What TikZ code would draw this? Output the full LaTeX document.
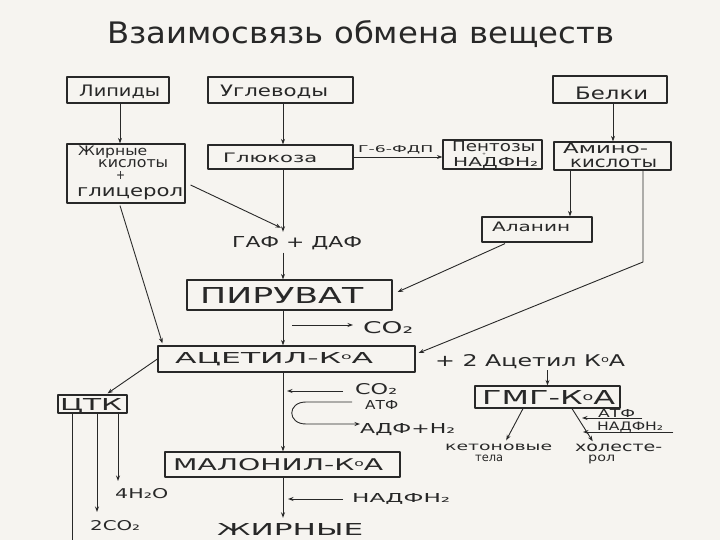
\documentclass[tikz,border=0pt]{standalone}
\usepackage{fontspec}
\setmainfont{DejaVu Sans}
\usetikzlibrary{arrows.meta,calc}
\definecolor{ink}{RGB}{40,40,40}
\definecolor{paper}{RGB}{246,244,240}
\newcommand\rtxt[3]{\resizebox{#1pt}{#2pt}{#3}}
\newcommand\kOA{К\raisebox{0.2em}{\scalebox{0.55}{о}}А}
\begin{document}
\begin{tikzpicture}[x=1pt,y=-1pt,line join=round,
  box/.style={draw=ink,line width=1.2pt,inner sep=0pt},
  lbl/.style={anchor=base west,inner sep=0pt,text=ink},
  con/.style={draw=ink,line width=0.9pt},
  arr/.style={con,-{Stealth[length=5.5pt,width=4pt]}}]
\fill[paper] (0,0) rectangle (720,540);
\useasboundingbox (0,0) rectangle (720,540);

% title
\node[lbl] (title) at (107,44) {\rtxt{507}{23}{Взаимосвязь обмена веществ}};

% boxes
\node[box,minimum width=102pt,minimum height=26pt] (lip) at (118,90) {};
\node[box,minimum width=145pt,minimum height=26pt] (ugl) at (280.5,90) {};
\node[box,minimum width=114pt,minimum height=27pt] (bel) at (610,89.5) {};
\node[box,minimum width=118pt,minimum height=59pt] (zhk) at (126,173.5) {};
\node[box,minimum width=145pt,minimum height=24pt] (glu) at (280.5,157) {};
\node[box,minimum width=99pt,minimum height=29pt] (pen) at (492.5,154.5) {};
\node[box,minimum width=117pt,minimum height=28pt] (ami) at (612.5,156) {};
\node[box,minimum width=110pt,minimum height=25pt] (ala) at (537,229.5) {};
\node[box,minimum width=205pt,minimum height=30pt] (pir) at (289.5,295) {};
\node[box,minimum width=257pt,minimum height=26pt] (ace) at (286.5,359) {};
\node[box,minimum width=69pt,minimum height=18pt] (tca) at (92.5,404) {};
\node[box,minimum width=145pt,minimum height=22pt] (gmg) at (547.5,397) {};
\node[box,minimum width=235pt,minimum height=25pt] (mal) at (282.5,464.5) {};

% texts
\node[lbl] (tlip) at (79,97) {\rtxt{81}{11.5}{Липиды}};
\node[lbl] (tugl) at (220,97) {\rtxt{108}{11.5}{Углеводы}};
\node[lbl] (tbel) at (575,100) {\rtxt{73}{12.5}{Белки}};
\node[lbl] (tzh1) at (78,156) {\rtxt{69}{9.5}{Жирные}};
\node[lbl] (tzh2) at (98,168) {\rtxt{70}{8}{кислоты}};
\node[lbl] (tzh3) at (116,180) {\rtxt{9}{8}{+}};
\node[lbl] (tzh4) at (77,197) {\rtxt{106}{9}{глицерол}};
\node[lbl] (tglu) at (223,163) {\rtxt{94}{9.5}{Глюкоза}};
\node[lbl] (tg6f) at (358,153) {\rtxt{75}{7}{Г-6-ФДП}};
\node[lbl] (tpe1) at (452,152) {\rtxt{83}{10.5}{Пентозы}};
\node[lbl] (tpep) at (482,156) {\rtxt{4}{2.5}{+}};
\node[lbl] (tpe2) at (453,167) {\rtxt{85}{9}{НАДФН₂}};
\node[lbl] (tam1) at (563,154) {\rtxt{85}{10.5}{Амино-}};
\node[lbl] (tam2) at (570,167.5) {\rtxt{87}{8.5}{кислоты}};
\node[lbl] (tala) at (492,231) {\rtxt{78}{9.5}{Аланин}};
\node[lbl] (tgaf) at (232,247) {\rtxt{130}{11}{ГАФ + ДАФ}};
\node[lbl] (tpir) at (200,303) {\rtxt{163}{16}{ПИРУВАТ}};
\node[lbl] (tco2a) at (363,333) {\rtxt{50}{12}{CO₂}};
\node[lbl] (tace) at (175,363) {\rtxt{198}{11}{АЦЕТИЛ-\kOA}};
\node[lbl] (tplus) at (435,366) {\rtxt{190}{12}{+ 2 Ацетил \kOA}};
\node[lbl] (ttca) at (60,410) {\rtxt{62}{12}{ЦТК}};
\node[lbl] (tco2b) at (355,394) {\rtxt{42}{11}{CO₂}};
\node[lbl] (tatf) at (365,409) {\rtxt{33}{9}{АТФ}};
\node[lbl] (tadf) at (360,433) {\rtxt{95}{10}{АДФ+Н₂}};
\node[lbl] (tmal) at (173,470) {\rtxt{210}{12}{МАЛОНИЛ-\kOA}};
\node[lbl] (th2o) at (115,498) {\rtxt{53}{10}{4H₂O}};
\node[lbl] (tco2c) at (90,530) {\rtxt{50}{10}{2CO₂}};
\node[lbl] (tnad) at (352,502) {\rtxt{98}{9}{НАДФН₂}};
\node[lbl] (tzhir) at (217,535) {\rtxt{146}{12}{ЖИРНЫЕ}};
\node[lbl] (tgmg) at (482,404) {\rtxt{133}{14}{ГМГ-\kOA}};
\node[lbl] (tatf2) at (598,417) {\rtxt{37}{8}{АТФ}};
\node[lbl] (tnad2) at (597,430) {\rtxt{66}{8.5}{НАДФН₂}};
\node[lbl] (tket1) at (445,450) {\rtxt{107}{6.5}{кетоновые}};
\node[lbl] (tket2) at (475,461) {\rtxt{28}{6.5}{тела}};
\node[lbl] (tchol1) at (575,451) {\rtxt{87}{7.5}{холесте-}};
\node[lbl] (tchol2) at (588,461) {\rtxt{27}{6.5}{рол}};

% helper coordinates
\coordinate (sp) at (283,0);
\coordinate (lx) at (120,0);
\coordinate (bx) at (613,0);
\coordinate (ax) at (570,0);
\coordinate (amk) at (643,262);
\coordinate (cb) at (292,325);
\coordinate (c2) at (343,391);
\coordinate (tcaA) at (72,540);
\coordinate (tcaB) at (97,512);
\coordinate (tcaC) at (118,481);
\coordinate (ctop) at (352,402);
\coordinate (cbot) at (360,424);
\coordinate (nb) at (343,499);

% connectors
\draw[arr] (lx |- lip.south) -- (lx |- zhk.north);
\draw[arr] (sp |- ugl.south) -- (sp |- glu.north);
\draw[arr] (bx |- bel.south) -- (bx |- ami.north);
\draw[arr] (glu.east) -- (pen.west |- glu.east);
\draw[arr] (ax |- ami.south) -- (ax |- ala.north);
\draw[arr,shorten >=4pt] (sp |- glu.south) -- (sp |- tgaf.north);
\draw[arr] ($(zhk.east)+(5,11.5)$) -- ($(sp |- tgaf.north)+(-2,-8)$);
\draw[arr,shorten <=3pt] (sp |- tgaf.south) -- (sp |- pir.north);
\draw[arr] (sp |- pir.south) -- (sp |- ace.north);
\draw[arr] (cb) -- ($(cb -| tco2a.west)+(-10,0)$);
\draw[arr] ($(ala.south)+(-32,1)$) -- ($(pir.east)+(5,-3)$);
\draw[arr] (ami.south -| amk) -- (amk) -- ($(ace.east)+(3,-6)$);
\draw[arr] ($(zhk.south)+(-6,2)$) -- ($(ace.north west)+(5,-2)$);
\draw[arr] (ace.west) -- ($(tca.north)+(15,-1)$);
\draw[con] (tca.south -| tcaA) -- (tcaA);
\draw[arr] (tca.south -| tcaB) -- (tcaB);
\draw[arr] (tca.south -| tcaC) -- (tcaC);
\draw[arr] (sp |- ace.south) -- (sp |- mal.north);
\draw[arr] (c2) -- ($(sp |- c2)+(4,0)$);
\draw[arr] (ctop) -- (306,402) .. controls (287,402) and (287,424) .. (306,424) -- (cbot);
\draw[arr,shorten >=5pt] (sp |- mal.south) -- (sp |- tzhir.north);
\draw[arr] (nb) -- ($(sp |- nb)+(5,0)$);
\draw[arr,shorten <=2pt] (gmg.north |- tplus.south) -- (gmg.north);
\draw[arr] ($(gmg.south)+(-24.5,0)$) -- ($(tket1.north)+(7.5,-3)$);
\draw[arr] ($(gmg.south)+(24.5,0)$) -- ($(tchol1.north)+(-26,-2)$);
\draw[arr] ($(tatf2.base east)+(7,1)$) -- ($(tatf2.base west)+(-16,1)$);
\draw[arr] ($(tnad2.base east)+(10,2)$) -- ($(tnad2.base west)+(-14,2)$);
\end{tikzpicture}
\end{document}
